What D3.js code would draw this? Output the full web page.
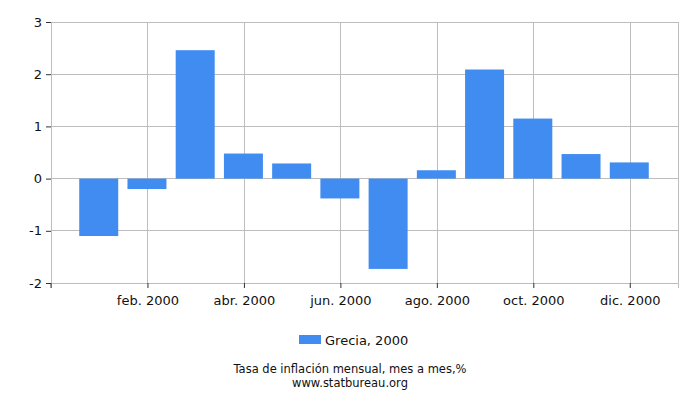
<!DOCTYPE html>
<html>
<head>
<meta charset="utf-8">
<script src="https://cdn.jsdelivr.net/npm/d3@7"></script>
<style>
  body { margin: 0; background: #fff; }
  text { font-family: "DejaVu Sans", Verdana, sans-serif; fill: #111; }
</style>
</head>
<body>
<svg id="chart"></svg>
<script>
// monthly inflation, Greece 2000
const months = ["ene. 2000", "feb. 2000", "mar. 2000", "abr. 2000", "may. 2000", "jun. 2000",
                "jul. 2000", "ago. 2000", "sep. 2000", "oct. 2000", "nov. 2000", "dic. 2000"];
const values = [-1.10, -0.20, 2.46, 0.48, 0.29, -0.38, -1.73, 0.16, 2.09, 1.15, 0.47, 0.31];
const yTicks = [-2, -1, 0, 1, 2, 3];
const xTickIdx = [1, 3, 5, 7, 9, 11];
const seriesName = "Grecia, 2000";
const title = "Tasa de inflación mensual, mes a mes,%";
const source = "www.statbureau.org";

const W = 700, H = 400;
const margin = {top: 22, right: 22, bottom: 117, left: 51},
    width = W - margin.left - margin.right,
    height = H - margin.top - margin.bottom;

const svg = d3.select("#chart").attr("width", W).attr("height", H);
const g = svg.append("g").attr("transform", `translate(${margin.left},${margin.top})`);

const x = d3.scaleLinear().domain([-1, 12]).range([0, width]);
const y = d3.scaleLinear().domain([-2, 3]).range([height, 0]);
const barW = 39;
const grid = "#bdbdbd";

// horizontal grid
g.selectAll(".hgrid").data(yTicks).join("line")
    .attr("x1", 0).attr("x2", width)
    .attr("y1", d => y(d)).attr("y2", d => y(d))
    .attr("stroke", grid).attr("shape-rendering", "crispEdges");

// vertical grid
g.selectAll(".vgrid").data(xTickIdx).join("line")
    .attr("x1", d => Math.round(x(d))).attr("x2", d => Math.round(x(d)))
    .attr("y1", 0).attr("y2", height)
    .attr("stroke", grid).attr("shape-rendering", "crispEdges");

// right border
g.append("line").attr("x1", width).attr("x2", width).attr("y1", 0).attr("y2", height)
    .attr("stroke", grid).attr("shape-rendering", "crispEdges");

// bars
g.selectAll(".bar").data(values).join("rect")
    .attr("x", (d, i) => x(i) - barW / 2 - 0.5)
    .attr("width", barW)
    .attr("y", d => y(Math.max(0, d)))
    .attr("height", d => Math.abs(y(d) - y(0)))
    .attr("fill", "#418cf0");

// y axis
const yAxis = g.append("g")
    .call(d3.axisLeft(y).tickValues(yTicks).tickSize(5).tickPadding(4).tickFormat(d3.format("d")));
yAxis.select(".domain").attr("stroke", grid);
yAxis.selectAll(".tick line").attr("stroke", "#333");
yAxis.selectAll("text").attr("font-size", 13).attr("fill", "#111")
    .text(d => d < 0 ? "-" + Math.abs(d) : d);

// x axis
const xAxis = g.append("g")
    .attr("transform", `translate(0,${height})`)
    .call(d3.axisBottom(x).tickValues(xTickIdx).tickSize(5).tickPadding(8)
        .tickFormat(i => months[i]));
xAxis.select(".domain").attr("stroke", grid);
xAxis.selectAll(".tick line").attr("stroke", "#333");
xAxis.selectAll("text").attr("font-size", 13).attr("fill", "#111");
// left bottom tick at axis origin
g.append("line").attr("x1", 0).attr("x2", 0).attr("y1", height).attr("y2", height + 5)
    .attr("stroke", "#333");

// legend
const legend = svg.append("g");
legend.append("rect").attr("x", 299).attr("y", 335).attr("width", 22).attr("height", 9)
    .attr("fill", "#418cf0");
legend.append("text").attr("x", 325).attr("y", 345).attr("font-size", 13).text(seriesName);

// title + source
svg.append("text").attr("x", W / 2).attr("y", 373).attr("text-anchor", "middle")
    .attr("font-size", 11.5).text(title);
svg.append("text").attr("x", W / 2).attr("y", 387).attr("text-anchor", "middle")
    .attr("font-size", 11.5).text(source);
</script>
</body>
</html>
